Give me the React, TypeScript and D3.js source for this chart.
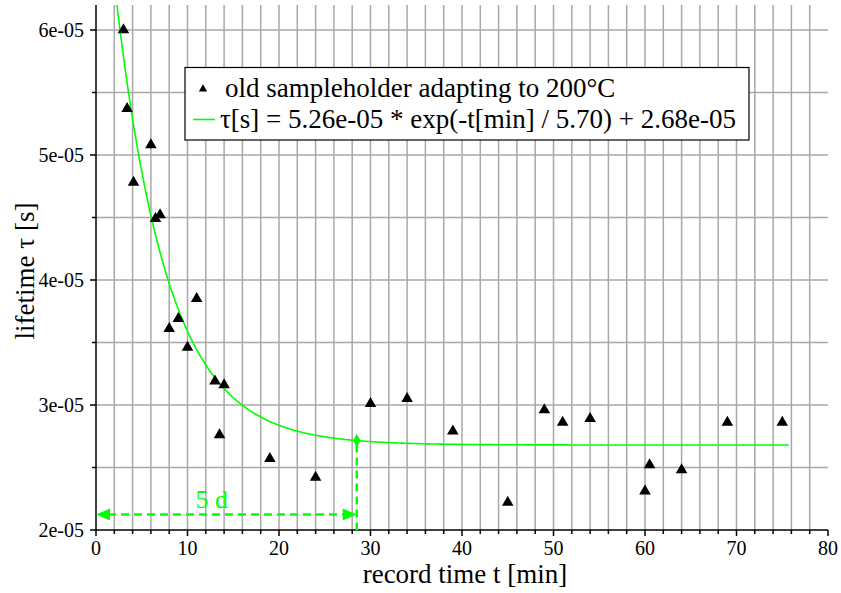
import React from "react";
import * as d3 from "d3";

const times = [3.0, 3.4, 4.1, 6.0, 6.5, 7.0, 8.0, 9.0, 10.0, 11.0, 13.0, 13.5, 14.0, 19.0, 24.0, 30.0, 34.0, 39.0, 45.0, 49.0, 51.0, 54.0, 60.0, 60.5, 64.0, 69.0, 75.0];
const lifetimes = [6.0e-5, 5.37e-5, 4.78e-5, 5.08e-5, 4.49e-5, 4.52e-5, 3.61e-5, 3.69e-5, 3.46e-5, 3.85e-5, 3.19e-5, 2.76e-5, 3.16e-5, 2.57e-5, 2.42e-5, 3.01e-5, 3.05e-5, 2.79e-5, 2.22e-5, 2.96e-5, 2.86e-5, 2.89e-5, 2.31e-5, 2.52e-5, 2.48e-5, 2.86e-5, 2.86e-5];
const xTickValues = [0, 10, 20, 30, 40, 50, 60, 70, 80];
const yTickValues = [2e-5, 3e-5, 4e-5, 5e-5, 6e-5];
const yTickLabels = ["2e-05", "3e-05", "4e-05", "5e-05", "6e-05"];
const fitA = 5.26e-5;
const fitTau = 5.7;
const fitC = 2.68e-5;
const fitTEnd = 75.7;
const arrowLevel = 2.125e-5;
const legendLabels = ["old sampleholder adapting to 200°C", "τ[s] = 5.26e-05 * exp(-t[min] / 5.70) + 2.68e-05"];

const W = 841, H = 593;
const FONT = "'Liberation Serif', 'Times New Roman', 'DejaVu Serif', serif";
const GREEN = "#00ff00";

export default function App() {
  const x = d3.scaleLinear().domain([0, 80]).range([96, 828]);
  const y = d3.scaleLinear().domain([2e-5, 6.2e-5]).range([530, 5]);
  const fit = (t: number) => fitA * Math.exp(-t / fitTau) + fitC;
  const fitPts = d3.range(0, fitTEnd + 0.0001, 0.05).map((t) => [t, fit(t)] as [number, number]);
  const line = d3.line<[number, number]>().x((d) => x(d[0])).y((d) => y(d[1]));
  const tri = d3.symbol().type(d3.symbolTriangle).size(58)();
  const triSmall = d3.symbol().type(d3.symbolTriangle).size(30)();
  const diamond = d3.symbol().type(d3.symbolDiamond).size(50)();
  const minorX = d3.range(2, 80, 2);
  const minorY = d3.range(2.5e-5, 6.01e-5, 0.5e-5);
  const t5 = 5 * fitTau;
  const xa = x(t5);
  const ya = y(arrowLevel);
  const x0 = x(0);
  const ts = { fontFamily: FONT };
  return (
    <div style={{ position: "absolute", left: 0, top: 0 }}>
      <svg width={W} height={H} style={{ display: "block", background: "#fff", fontFamily: FONT }}>
        <defs>
          <clipPath id="plotclip">
            <rect x={96} y={5} width={732} height={525} />
          </clipPath>
        </defs>
        {/* grid */}
        <g stroke="#a8a8a8" strokeWidth={1.5}>
          {minorX.map((v) => (
            <line key={"gx" + v} x1={x(v)} x2={x(v)} y1={y(6.2e-5)} y2={y(2e-5)} />
          ))}
          {minorY.map((v, i) => (
            <line key={"gy" + i} x1={x(0)} x2={x(80)} y1={y(v)} y2={y(v)} />
          ))}
        </g>
        {/* axes */}
        <g stroke="#000" strokeWidth={1.5}>
          <line x1={x(0)} x2={x(80)} y1={y(2e-5)} y2={y(2e-5)} />
          <line x1={x(0)} x2={x(0)} y1={y(6.2e-5)} y2={y(2e-5)} />
          {d3.range(0, 81, 2).map((v) => (
            <line key={"tx" + v} x1={x(v)} x2={x(v)} y1={y(2e-5)} y2={y(2e-5) + (v % 10 === 0 ? 6 : 4)} />
          ))}
          {d3.range(2e-5, 6.01e-5, 0.5e-5).map((v, i) => (
            <line key={"ty" + i} x1={x(0) - (i % 2 === 0 ? 6 : 4)} x2={x(0)} y1={y(v)} y2={y(v)} />
          ))}
        </g>
        {/* tick labels */}
        <g fontSize={20} fill="#000">
          {xTickValues.map((v) => (
            <text key={"lx" + v} style={ts} x={x(v)} y={554.5} textAnchor="middle">{v}</text>
          ))}
          {yTickValues.map((v, i) => (
            <text key={"ly" + i} style={ts} x={84} y={y(v)} dy="0.35em" textAnchor="end">{yTickLabels[i]}</text>
          ))}
        </g>
        {/* axis titles */}
        <text style={ts} x={465} y={583} fontSize={27} textAnchor="middle">record time t [min]</text>
        <text style={ts} transform="translate(34,271) rotate(-90)" fontSize={27} textAnchor="middle">lifetime τ [s]</text>
        {/* fit curve */}
        <path d={line(fitPts) || ""} fill="none" stroke={GREEN} strokeWidth={1.6} clipPath="url(#plotclip)" />
        {/* 5 tau markers */}
        <g stroke={GREEN} strokeWidth={2.5} strokeDasharray="8,5" fill="none">
          <line x1={xa} x2={xa} y1={y(fit(t5)) + 4} y2={y(2e-5) + 4} />
          <line x1={x0 + 12} x2={xa - 12} y1={ya} y2={ya} />
        </g>
        <path d={`M${x0},${ya}L${x0 + 14},${ya - 6}L${x0 + 14},${ya + 6}Z`} fill={GREEN} />
        <path d={`M${xa},${ya}L${xa - 14},${ya - 6}L${xa - 14},${ya + 6}Z`} fill={GREEN} />
        <path d={diamond} transform={`translate(${xa},${y(fit(t5))})`} fill={GREEN} />
        <text style={ts} x={x(12.65)} y={508} fontSize={26} fill={GREEN} textAnchor="middle">5 d</text>
        {/* data points */}
        <g fill="#000">
          {times.map((t, i) => (
            <path key={"p" + i} d={tri || ""} transform={`translate(${x(t)},${y(lifetimes[i])})`} />
          ))}
        </g>
        {/* legend */}
        <rect x={185} y={67.5} width={564} height={72.5} fill="#fff" stroke="#000" strokeWidth={1.2} />
        <path d={triSmall || ""} transform="translate(203,89)" fill="#000" />
        <line x1={193} x2={215} y1={119.5} y2={119.5} stroke={GREEN} strokeWidth={1.6} />
        <text style={ts} x={225} y={97} fontSize={27} fill="#000">{legendLabels[0]}</text>
        <text style={ts} x={220} y={128} fontSize={27} fill="#000">{legendLabels[1]}</text>
      </svg>
    </div>
  );
}
